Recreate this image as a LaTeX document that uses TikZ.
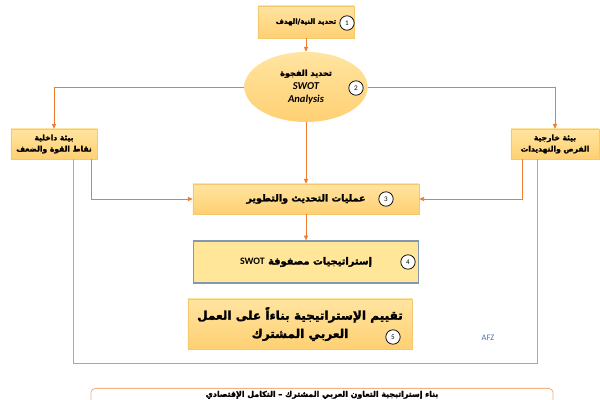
\documentclass[tikz,border=0pt]{standalone}
\usepackage{fontspec}
\setmainfont{Carlito}
\newfontfamily\arabicfont[Script=Arabic,FakeBold=2]{DejaVu Sans}
\TeXXeTstate=1
\usetikzlibrary{shapes.geometric,arrows.meta,calc}

\definecolor{boxtop}{RGB}{255,228,160}
\definecolor{boxbot}{RGB}{255,208,115}
\definecolor{boxedge}{RGB}{245,200,110}
\definecolor{matfill}{RGB}{255,230,153}
\definecolor{matedge}{RGB}{132,151,176}
\definecolor{linkorange}{RGB}{237,125,49}
\definecolor{linkblue}{RGB}{143,170,220}
\definecolor{goaledge}{RGB}{244,177,131}
\definecolor{signblue}{RGB}{68,114,196}

\newcommand\artext[1]{\beginR#1\endR}

\begin{document}
\begin{tikzpicture}[x=0.025cm,y=-0.025cm,
    box/.style={draw=boxedge, line width=0.3pt, top color=boxtop, bottom color=boxbot, align=center, inner sep=1pt},
    num/.style={circle, draw=black, fill=white, line width=0.5pt, minimum size=0.36cm, inner sep=0pt, font=\fontsize{5}{5}\selectfont},
    link/.style={draw=linkorange, line width=0.65pt, -{Triangle[length=3.5pt,width=3pt]}},
    blueline/.style={draw=linkblue, line width=0.6pt}]
    \clip (0,0) rectangle (600,400);

    \node[box, minimum width=2.4cm, minimum height=0.8cm, font=\arabicfont\bfseries\fontsize{5}{7}\selectfont] (intent) at (306,22) {\artext{تحديد النية/الهدف}};
    \node[box, ellipse, minimum width=3.08cm, minimum height=1.75cm, draw=none, font=\bfseries\fontsize{7.5}{9.5}\selectfont] (gap) at (306,87)
        {{\arabicfont\fontsize{5.8}{8}\selectfont\artext{تحديد الفجوة}}\\{\itshape SWOT}\\{\itshape Analysis}};
    \node[box, minimum width=2.15cm, minimum height=0.75cm, font=\arabicfont\bfseries\fontsize{5.4}{8}\selectfont] (inner) at (54,144)
        {\artext{بيئة داخلية}\\\artext{نقاط القوة والضعف}};
    \node[box, minimum width=2.2cm, minimum height=0.75cm, font=\arabicfont\bfseries\fontsize{5.4}{8}\selectfont] (outer) at (555,144)
        {\artext{بيئة خارجية}\\\artext{الفرص والتهديدات}};
    \node[box, minimum width=5.65cm, minimum height=0.75cm, font=\arabicfont\bfseries\fontsize{6.8}{10}\selectfont] (update) at (306,199)
        {\artext{عمليات التحديث والتطوير}};
    \node[draw=matedge, line width=0.8pt, fill=matfill, minimum width=5.63cm, minimum height=1.05cm, inner sep=1pt, font=\arabicfont\bfseries\fontsize{7}{9}\selectfont] (swotmat) at (306,262)
        {\artext{إستراتيجيات مصفوفة \beginL{\rmfamily\bfseries SWOT}\endL}};
    \node[box, minimum width=5.6cm, minimum height=1.25cm, font=\arabicfont\bfseries\fontsize{8.6}{13}\selectfont] (assess) at (300,324)
        {\artext{تقييم الإستراتيجية بناءاً على العمل}\\\artext{العربي المشترك}};
    \node[text=signblue, font=\fontsize{6}{7}\selectfont] (sign) at (488,338) {AFZ};
    \node[draw=goaledge, line width=0.6pt, rounded corners=3pt, fill=white, anchor=north, minimum width=11.55cm,
        inner ysep=1pt, text height=5pt, text depth=20pt, font=\arabicfont\bfseries\fontsize{5.6}{7}\selectfont] (goal) at (322,388)
        {\artext{بناء إستراتيجية التعاون العربي المشترك – التكامل الإقتصادي}};

    % numbered steps
    \node[num] (c1) at (347,23) {1};
    \node[num] (c2) at (356,88) {2};
    \node[num] (c3) at (386,199) {3};
    \node[num] (c4) at (408,262) {4};
    \node[num] (c5) at (393,337) {5};

    \draw[link] (intent.south) -- (gap.north);
    \draw[link] (gap.west) -| (inner.north);
    \draw[link] (gap.east) -| (outer.north);
    \draw[link] (gap.south) -- (update.north);
    \draw[link] ($(inner.south east)+(-6,0)$) |- (update.west);
    \draw[link] ($(outer.south west)+(12,0)$) |- (update.east);
    \draw[link] (update.south) -- (swotmat.north);
    \draw[blueline] ($(inner.south west)+(63,0)$) -- ++(0,204) -| ($(outer.south west)+(27,0)$);
\end{tikzpicture}
\end{document}
